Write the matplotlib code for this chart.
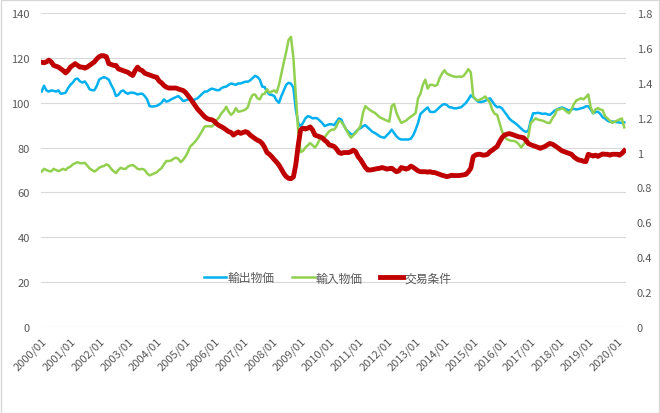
import matplotlib
matplotlib.use("Agg")
import matplotlib.pyplot as plt
from matplotlib.patches import Rectangle

plt.rcParams['font.family'] = ['Noto Sans CJK JP', 'DejaVu Sans']

# monthly, 2000/01 .. 2020/04
export_price = [
  105, 107.6, 105.5, 105, 105.5, 105.3, 105, 105.5, 104, 104.2, 104.5, 106.5,
  108, 109, 110.5, 110.8, 109.5, 109, 109.5, 108, 106, 105.6, 105.6, 107.5,
  110.3, 111, 111.4, 111, 110.3, 108, 106, 103, 103.5, 105, 105.5, 104.5,
  104, 104.5, 104.5, 104.2, 103.7, 104, 104, 103, 101.5, 98.5, 98.3, 98.4,
  98.6, 99.2, 100, 101.5, 100.5, 100.8, 101.5, 102, 102.5, 103, 102, 100.8,
  101, 101.5, 101.5, 101, 101.5, 102, 103, 104, 105, 105, 105.8, 106.3,
  106, 105.6, 105.6, 106.5, 107, 107.2, 108, 108.6, 108.3, 108, 108.6, 108.6,
  109, 109.4, 109.4, 110, 111, 112, 111.5, 110.3, 107.2, 107, 105, 103.7,
  103.5, 103, 101, 100, 103, 105.5, 108, 108.9, 108.5, 106.7, 97, 91,
  89.5, 91, 93, 94, 93.7, 93, 93.2, 93, 92, 91, 89.6, 90,
  90.4, 90.4, 90, 91.5, 93, 92.5, 90, 88, 87, 86, 85.8, 87,
  88, 88.7, 89.5, 90, 89, 88, 87, 86.5, 85.8, 85, 84.6, 84.4,
  85.5, 86.6, 88, 86.5, 85, 84, 83.6, 83.6, 83.6, 83.6, 84, 85.5,
  88, 91, 95, 96, 97, 97.9, 96, 95.8, 96, 97, 98, 99,
  99.4, 99, 98, 97.9, 97.5, 97.5, 97.8, 98, 99, 100, 101.5, 103.3,
  102.5, 101.5, 100.5, 100.3, 100.5, 100.8, 101.5, 102, 100.5, 99, 98, 98.2,
  97.5, 96, 94.6, 93, 92, 91.3, 90.5, 89.5, 88.5, 87.5, 87, 87.5,
  92, 95.3, 95.3, 95.5, 95.3, 95, 95.2, 94.8, 94.6, 95.5, 96.5, 97,
  97.5, 97.9, 97.5, 97, 96.5, 97, 97.3, 97, 97.2, 97.5, 97.8, 98.4,
  98.4, 97, 95.3, 95.8, 96, 95, 93.5, 93, 92, 91.5, 91.6, 91.5,
  91.3, 91.2, 91, 91.2,
]

import_price = [
  69.3, 70.5, 70, 69.5, 69.4, 70.5, 70, 69.5, 70, 70.5, 70, 71,
  71.5, 72.5, 73, 73.5, 73, 73, 73.2, 72, 70.7, 70, 69.3, 70,
  71, 71.5, 71.8, 72.5, 72, 70.5, 69.5, 68.6, 70, 71, 70.5, 70.5,
  71.5, 72, 72.2, 71.5, 70.5, 70.3, 70.5, 70, 68.5, 67.6, 68, 68.5,
  69, 70, 70.8, 72.5, 74, 74, 74.2, 75, 75.5, 75, 73.5, 74.5,
  76, 78, 80.5, 81.5, 82.6, 84, 85.7, 87.5, 89.4, 89.5, 89.5, 89.4,
  90.5, 92.3, 93.5, 95.3, 96.5, 98.2, 96, 94.6, 95.5, 97.6, 96, 96.2,
  96.5, 97, 98, 101.5, 103.5, 103.7, 102, 101.5, 103.7, 104, 106, 104.5,
  105, 105.5, 104.5, 108, 113, 118, 122.7, 128, 129.4, 120, 104, 87.3,
  78, 78.5, 80, 81, 82, 81, 80, 81.5, 83.7, 84, 84.5, 86,
  87.3, 88, 88, 89.5, 92, 91.5, 90, 88, 86, 84.4, 85.5, 86.6,
  88, 89.6, 95.3, 98.5, 97.5, 96.7, 96, 95.5, 94.5, 93.5, 93, 92.5,
  92, 91.6, 98.5, 99.4, 95.5, 93, 91, 91.5, 92, 93, 93.8, 94.5,
  95.5, 102, 104, 108, 110.3, 106.3, 108, 108, 107.5, 108, 111, 113,
  114.5, 113, 112.5, 112, 111.7, 111.5, 111.7, 111.5, 112, 113.4, 115, 113.5,
  103, 101.5, 101, 101.5, 102, 102.8, 101.5, 100, 96.7, 95, 94.6, 91,
  87.3, 85, 83.7, 83.3, 83, 83, 82.5, 81.5, 80, 81.5, 82.5, 85,
  91, 92, 93, 92.5, 92.2, 92, 91.5, 91, 91, 93, 94.5, 97,
  97, 97.5, 97, 96, 95.3, 97, 99.4, 101, 101.5, 102, 101.5, 102.5,
  103.7, 98, 95.3, 97, 97.6, 97, 96.7, 94, 93, 92, 91, 91.5,
  92, 92.5, 93, 89,
]

terms_of_trade = [
  1.518, 1.515, 1.52, 1.53, 1.52, 1.50, 1.495, 1.49, 1.48, 1.47, 1.457, 1.47,
  1.49, 1.50, 1.51, 1.50, 1.49, 1.49, 1.484, 1.49, 1.50, 1.51, 1.52, 1.537,
  1.55, 1.556, 1.555, 1.55, 1.51, 1.505, 1.50, 1.50, 1.48, 1.475, 1.47, 1.465,
  1.46, 1.45, 1.442, 1.47, 1.49, 1.475, 1.47, 1.455, 1.45, 1.445, 1.44, 1.435,
  1.432, 1.41, 1.40, 1.385, 1.375, 1.37, 1.37, 1.37, 1.37, 1.365, 1.36, 1.356,
  1.345, 1.328, 1.31, 1.29, 1.27, 1.25, 1.235, 1.22, 1.205, 1.195, 1.19, 1.188,
  1.18, 1.165, 1.155, 1.148, 1.14, 1.13, 1.12, 1.115, 1.10, 1.11, 1.118, 1.11,
  1.115, 1.12, 1.115, 1.10, 1.09, 1.08, 1.071, 1.065, 1.052, 1.03, 1.00, 0.99,
  0.976, 0.96, 0.945, 0.928, 0.905, 0.88, 0.862, 0.852, 0.85, 0.86, 0.93, 1.04,
  1.13, 1.14, 1.135, 1.14, 1.147, 1.13, 1.10, 1.095, 1.09, 1.085, 1.071, 1.06,
  1.043, 1.04, 1.035, 1.02, 1.00, 0.995, 1.00, 1.00, 1.00, 1.005, 1.014, 1.005,
  0.976, 0.96, 0.938, 0.915, 0.90, 0.90, 0.902, 0.905, 0.908, 0.91, 0.914, 0.91,
  0.905, 0.908, 0.91, 0.90, 0.89, 0.895, 0.914, 0.91, 0.905, 0.91, 0.922, 0.915,
  0.905, 0.895, 0.89, 0.89, 0.89, 0.888, 0.89, 0.886, 0.885, 0.88, 0.875, 0.87,
  0.866, 0.862, 0.865, 0.87, 0.868, 0.868, 0.868, 0.87, 0.872, 0.875, 0.89, 0.91,
  0.976, 0.986, 0.99, 0.99, 0.985, 0.986, 0.99, 1.005, 1.014, 1.025, 1.035, 1.062,
  1.085, 1.10, 1.105, 1.109, 1.105, 1.10, 1.095, 1.09, 1.088, 1.085, 1.07, 1.052,
  1.045, 1.04, 1.035, 1.03, 1.024, 1.03, 1.035, 1.045, 1.052, 1.048, 1.04, 1.03,
  1.02, 1.01, 1.005, 1.0, 0.995, 0.99, 0.975, 0.965, 0.957, 0.955, 0.95, 0.948,
  0.99, 0.985, 0.98, 0.985, 0.978, 0.985, 0.992, 0.99, 0.99, 0.985, 0.99, 0.99,
  0.99, 0.985, 0.995, 1.01,
]

years = list(range(2000, 2021))
tick_labels = ["%d/01" % y for y in years]
left_ticks = [0, 20, 40, 60, 80, 100, 120, 140]
right_ticks = [0, 0.2, 0.4, 0.6, 0.8, 1.0, 1.2, 1.4, 1.6, 1.8]
right_labels = ["0", "0.2", "0.4", "0.6", "0.8", "1", "1.2", "1.4", "1.6", "1.8"]

months = list(range(len(export_price)))
txt = "#595959"

fig = plt.figure(figsize=(6.6, 4.14), dpi=100)
ax = fig.add_axes([0.062, 0.208, 0.886, 0.758])
ax2 = ax.twinx()

l1, = ax.plot(months, export_price, color="#00B0F0", lw=1.8, label="輸出物価")
l2, = ax.plot(months, import_price, color="#92D050", lw=1.8, label="輸入物価")
l3, = ax2.plot(months, terms_of_trade, color="#C00000", lw=3.5, label="交易条件")

ax.set_ylim(0, 140)
ax.set_yticks(left_ticks)
ax2.set_ylim(0, 1.8)
ax2.set_yticks(right_ticks)
ax2.set_yticklabels(right_labels)
ax.set_xlim(-0.3, 243.6)
ax.set_xticks(months[::12])
ax.set_xticklabels(tick_labels, rotation=45, ha="right", rotation_mode="anchor")

ax.grid(axis="y", color="#D9D9D9", lw=0.8)
ax.set_axisbelow(True)
for a in (ax, ax2):
  for s in a.spines.values():
    s.set_visible(False)
  a.tick_params(length=0, labelsize=8, labelcolor=txt)
ax.tick_params(axis="y", pad=8)
ax2.tick_params(axis="y", pad=8)
ax.tick_params(axis="x", pad=6)

leg = ax.legend(handles=[l1, l2, l3], loc="center", bbox_to_anchor=(0.49, 0.156),
                ncol=3, frameon=False, fontsize=8.5, handlelength=1.9,
                handletextpad=0.1, columnspacing=1.5)
for t in leg.get_texts():
  t.set_color(txt)

fig.patches.append(Rectangle((0.001, 0.001), 0.997, 0.997, transform=fig.transFigure,
                             fill=False, edgecolor="#D9D9D9", lw=1))

plt.savefig("out.png", dpi=100)
